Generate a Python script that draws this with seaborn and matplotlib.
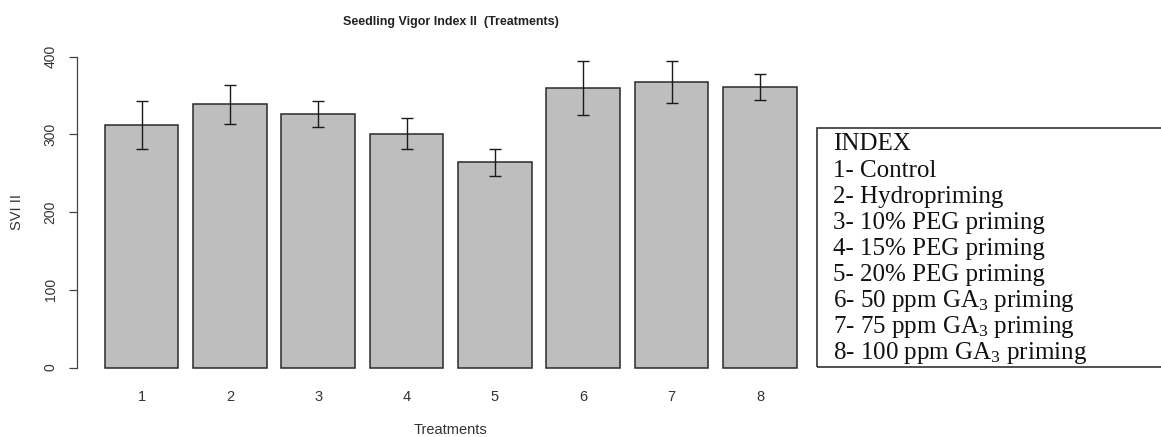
import matplotlib
matplotlib.use("Agg")
import matplotlib.pyplot as plt
import matplotlib.patches as mpatches
from matplotlib.font_manager import fontManager
import seaborn as sns
import pandas as pd

# Seedling vigour index II per seed-priming treatment (mean and error)
treatments = ["1", "2", "3", "4", "5", "6", "7", "8"]
svi_mean = [312, 339, 326, 301, 264, 360, 368, 361]
svi_err = [31, 25, 17, 20, 17, 35, 27, 17]
y_ticks = [0, 100, 200, 300, 400]

index_title = "INDEX"
index_labels = [
    "1- Control",
    "2- Hydropriming",
    "3- 10% PEG priming",
    "4- 15% PEG priming",
    "5- 20% PEG priming",
    "6- 50 ppm GA$_3$ priming",
    "7- 75 ppm GA$_3$ priming",
    "8- 100 ppm GA$_3$ priming",
]

sns.set_style("white")
installed = {f.name for f in fontManager.ttflist}
sans = "Liberation Sans Narrow" if "Liberation Sans Narrow" in installed else "Liberation Sans"
plt.rcParams["font.family"] = [sans, "DejaVu Sans"]
plt.rcParams["mathtext.fontset"] = "custom"
plt.rcParams["mathtext.rm"] = "Liberation Serif"
plt.rcParams["mathtext.it"] = "Liberation Serif"
plt.rcParams["mathtext.bf"] = "Liberation Serif:bold"

W, H = 1161, 437
fig = plt.figure(figsize=(W / 100, H / 100), dpi=100)
ax = fig.add_axes([77 / W, 1 - 380 / H, (824.5 - 77) / W, (380 - 44.3) / H])

df = pd.DataFrame({"Treatment": treatments, "SVI": svi_mean})
sns.barplot(data=df, x="Treatment", y="SVI", color="#bebebe", saturation=1,
            edgecolor="#2a2a2a", linewidth=1.1, width=1 / 1.2, errorbar=None, ax=ax)
ax.errorbar(range(len(treatments)), svi_mean, yerr=svi_err, fmt="none",
            ecolor="#1a1a1a", elinewidth=1.0, capsize=4.3, capthick=1.0)

ax.set_xlim(-0.73, 7.73)
ax.set_ylim(-16, 416)
for side in ["top", "right", "bottom"]:
    ax.spines[side].set_visible(False)
ax.spines["left"].set_bounds(0, 400)
ax.spines["left"].set_color("#444444")
ax.spines["left"].set_linewidth(0.9)

ax.set_yticks(y_ticks)
ax.set_yticklabels([str(v) for v in y_ticks], rotation=90, va="center")
ax.tick_params(axis="y", length=6, width=0.9, color="#444444", pad=8,
               labelsize=10, labelcolor="#333333", left=True)
ax.tick_params(axis="x", length=0, pad=7, labelsize=10.5, labelcolor="#333333")

ax.set_xlabel("Treatments", fontsize=10.5, color="#333333")
ax.xaxis.set_label_coords(0.5, -0.128)
ax.set_ylabel("SVI II", fontsize=10.5, color="#333333")
ax.yaxis.set_label_coords(-0.071, 0.5)
ax.set_title("Seedling Vigor Index II  (Treatments)", fontsize=9, fontweight="bold",
             color="#222222", y=1.057, pad=0)

# Treatment key box on the right
box = mpatches.Rectangle((817 / W, 1 - 367 / H), 400 / W, (367 - 128) / H,
                         transform=fig.transFigure, fill=False,
                         edgecolor="#333333", linewidth=1.2)
fig.add_artist(box)
lines = [index_title] + index_labels
for i, txt in enumerate(lines):
    fig.text(833 / W, 1 - (150.5 + 26.1 * i) / H, txt, fontsize=18,
             family=["Liberation Serif", "DejaVu Serif"], color="#111111",
             va="baseline", ha="left")

fig.savefig("out.png", dpi=100)
